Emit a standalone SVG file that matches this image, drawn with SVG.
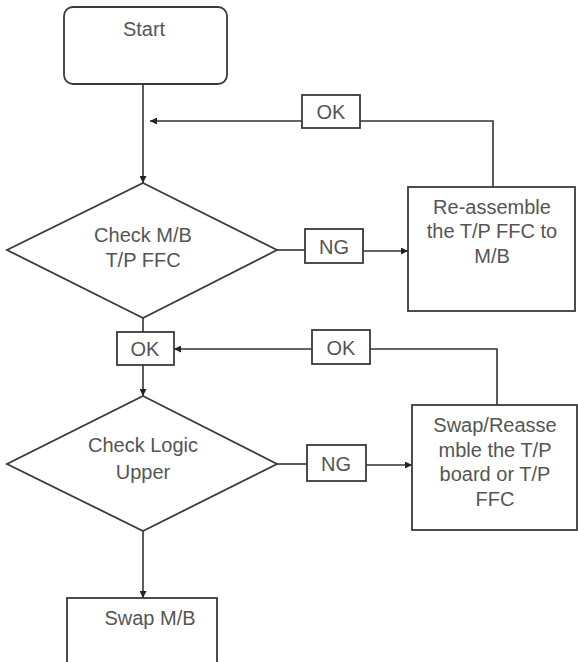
<svg xmlns="http://www.w3.org/2000/svg" width="578" height="662" viewBox="0 0 578 662">
<defs>
<style>
.s{fill:#fff;stroke:#3a3a3a;stroke-width:1.8}
.c{fill:none;stroke:#333;stroke-width:1.6}
.t{font-family:"Liberation Sans",Arial,sans-serif;font-size:20px;fill:#555;text-anchor:middle}
</style>
<marker id="ah" viewBox="0 0 10 10" refX="10" refY="5" markerWidth="7" markerHeight="7" markerUnits="userSpaceOnUse" orient="auto">
<path d="M0,0 L10,5 L0,10 z" fill="#222"/>
</marker>
</defs>
<rect width="578" height="662" fill="#fff"/>
<g id="connectors">
<path class="c" d="M143,84 V183" marker-end="url(#ah)"/>
<path class="c" d="M360,121 H493 V187"/>
<path class="c" d="M302,121 H150" marker-end="url(#ah)"/>
<path class="c" d="M277,250 H305"/>
<path class="c" d="M363,251 H408" marker-end="url(#ah)"/>
<path class="c" d="M143,318 V332"/>
<path class="c" d="M143,365 V396" marker-end="url(#ah)"/>
<path class="c" d="M370,349 H497 V405"/>
<path class="c" d="M312,349 H174" marker-end="url(#ah)"/>
<path class="c" d="M277,464 H307"/>
<path class="c" d="M366,465 H412" marker-end="url(#ah)"/>
<path class="c" d="M143,531 V598" marker-end="url(#ah)"/>
</g>
<g id="start">
<rect class="s" x="64" y="7" width="163" height="77" rx="9"/>
<text class="t" x="144" y="36">Start</text>
</g>
<g id="check-mb">
<path class="s" d="M143,183 L277,250 L143,318 L7,250 Z"/>
<text class="t" x="143" y="242">Check M/B</text>
<text class="t" x="143" y="267">T/P FFC</text>
</g>
<g id="ok1">
<rect class="s" x="302" y="95" width="58" height="33"/>
<text class="t" x="331" y="119">OK</text>
</g>
<g id="ng1">
<rect class="s" x="305" y="229" width="58" height="34"/>
<text class="t" x="334" y="254">NG</text>
</g>
<g id="reassemble">
<rect class="s" x="408" y="187" width="167" height="124"/>
<text class="t" x="492" y="214">Re-assemble</text>
<text class="t" x="492" y="238">the T/P FFC to</text>
<text class="t" x="492" y="263">M/B</text>
</g>
<g id="ok2">
<rect class="s" x="117" y="332" width="57" height="33"/>
<text class="t" x="145" y="356">OK</text>
</g>
<g id="ok3">
<rect class="s" x="312" y="330" width="58" height="34"/>
<text class="t" x="341" y="355">OK</text>
</g>
<g id="check-logic">
<path class="s" d="M143,396 L277,464 L143,531 L7,464 Z"/>
<text class="t" x="143" y="452">Check Logic</text>
<text class="t" x="143" y="479">Upper</text>
</g>
<g id="ng2">
<rect class="s" x="307" y="445" width="59" height="36"/>
<text class="t" x="336" y="471">NG</text>
</g>
<g id="swap-reassemble">
<rect class="s" x="412" y="405" width="165" height="125"/>
<text class="t" x="495" y="432">Swap/Reasse</text>
<text class="t" x="495" y="457">mble the T/P</text>
<text class="t" x="495" y="481">board or T/P</text>
<text class="t" x="495" y="506">FFC</text>
</g>
<g id="swap-mb">
<rect class="s" x="67" y="598" width="150" height="70"/>
<text class="t" x="150" y="625">Swap M/B</text>
</g>
</svg>
